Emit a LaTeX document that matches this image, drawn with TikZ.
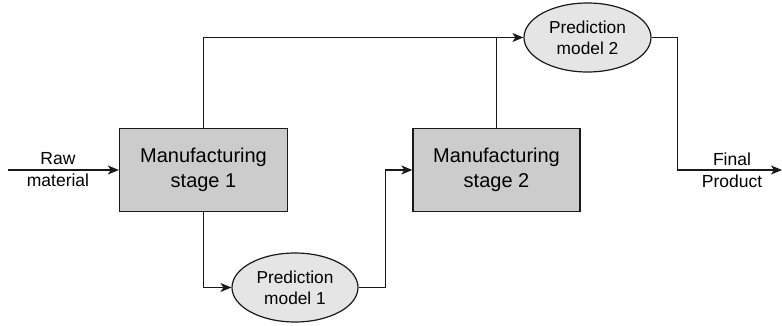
\documentclass[tikz,border=0pt]{standalone}
\usepackage{fontspec}
\setmainfont{Liberation Sans}
\usetikzlibrary{shapes.geometric,arrows.meta}
\tikzset{
  link/.style={draw=black!90, line width=1.3pt},
  arr/.style={link, -{Stealth[length=11pt,width=9pt,inset=3pt]}},
  stagebox/.style={draw=black!90, line width=1.3pt, fill=black!20, minimum width=168pt, minimum height=83.5pt, align=center, font=\fontsize{20}{25}\selectfont},
  model/.style={ellipse, draw=black!90, line width=1.2pt, fill=black!10, minimum width=126pt, minimum height=69pt, inner sep=0pt, align=center, font=\fontsize{17.3}{21}\selectfont},
  label/.style={align=center, font=\fontsize{17.5}{22}\selectfont, inner sep=0pt}
}
\begin{document}
\begin{tikzpicture}[x=1pt,y=-1pt]
  \useasboundingbox (0,0) rectangle (782,326);
  % process stages
  \node[stagebox] (st1) at (203.5,170) {Manufacturing\\stage 1};
  \node[stagebox, minimum width=167pt] (st2) at (496.5,170) {Manufacturing\\stage 2};
  % prediction models
  \node[model] (pm1) at (295,287.5) {Prediction\\model 1};
  \node[model, minimum width=127pt] (pm2) at (587.5,37.5) {Prediction\\model 2};
  % loose ends of the flow
  \coordinate (in) at (8,170);
  \coordinate (out) at (782,170);
  % flow
  \draw[arr] (in) -- (st1.west);
  \draw[arr] (st1.north) |- (pm2.west);
  \draw[link] (st2.north) -- (st2.north |- pm2.west);
  \draw[arr] (st1.south) |- (pm1.west);
  \draw[arr] (pm1.east) -- ++(27,0) |- (st2.west);
  \draw[arr] (pm2.east) -- ++(26,0) |- (out);
  % labels
  \node[label] (rawlbl) at (58,170) {Raw\\material};
  \node[label] (finlbl) at (732,170) {Final\\Product};
\end{tikzpicture}
\end{document}
